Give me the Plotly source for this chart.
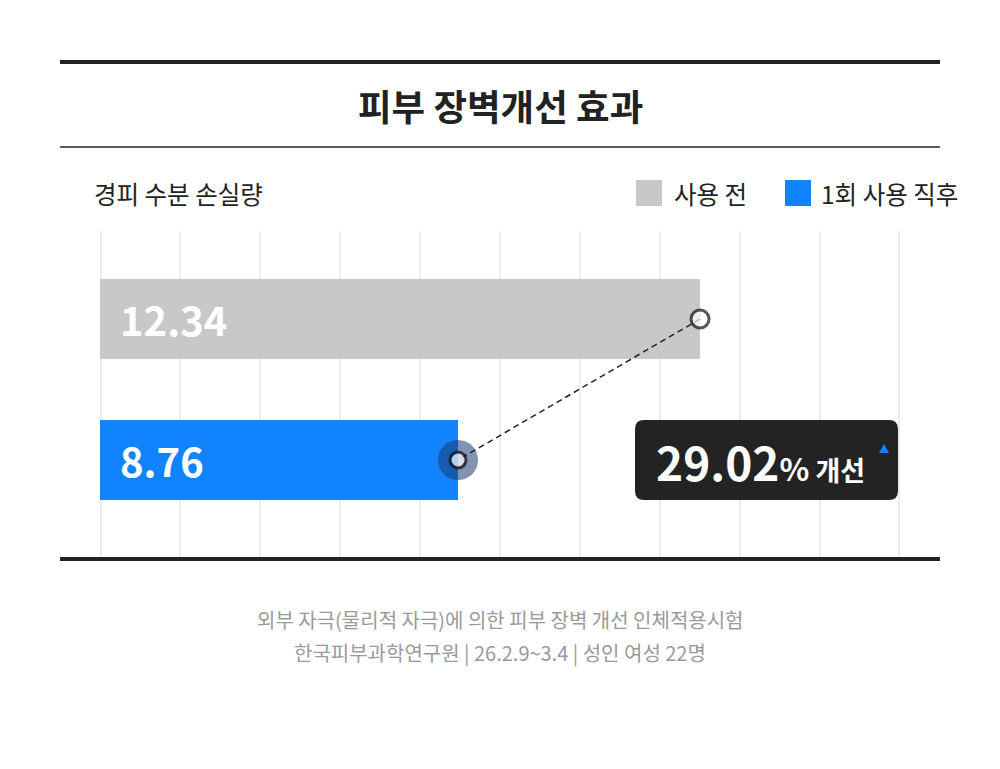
import plotly.graph_objects as go
import numpy as np

# ---- data ----
categories = ["사용 전", "1회 사용 직후"]
values = [12.34, 8.76]
value_labels = ["12.34", "8.76"]
improvement_label = "29.02"
bar_colors = ["#c8c8c8", "#1283fe"]

title_text = "피부 장벽개선 효과"
subtitle_text = "경피 수분 손실량"
footer_lines = ["외부 자극(물리적 자극)에 의한 피부 장벽 개선 인체적용시험",
                "한국피부과학연구원 | 26.2.9~3.4 | 성인 여성 22명"]

W, H = 1000, 769
FONT = "Noto Sans CJK KR"

def py(pix):
    return 1 - pix / H

def px(pix):
    return pix / W

x_range = [3.464, 15.298]
idx = list(range(len(categories)))

# decorative grid positions (edges nudged inside so they are drawn)
unit_per_px = (x_range[1] - x_range[0]) / 800
grid_vals = list(np.linspace(x_range[0], x_range[1], 11))
grid_vals[0] += 1.3 * unit_per_px
grid_vals[-1] -= 1.3 * unit_per_px

fig = go.Figure()

fig.add_trace(go.Bar(
    y=idx, x=values, base=0, orientation="h",
    marker=dict(color=bar_colors, line=dict(width=0)),
    width=0.567, hoverinfo="skip", showlegend=False,
))

# halo around the after-use end point
fig.add_trace(go.Scatter(
    x=[values[1]], y=[idx[1]], mode="markers",
    marker=dict(size=40, color="rgba(28,58,110,0.55)", line=dict(width=0)),
    hoverinfo="skip", showlegend=False,
))
# dashed connector
fig.add_trace(go.Scatter(
    x=values, y=idx, mode="lines",
    line=dict(color="#222222", width=1.5, dash="6px,4px"),
    hoverinfo="skip", showlegend=False,
))
# end point circles
fig.add_trace(go.Scatter(
    x=values, y=idx, mode="markers",
    marker=dict(size=[18, 16], color="white", line=dict(color="#111111", width=3)),
    hoverinfo="skip", showlegend=False,
))

shapes = []
annotations = []

# top heavy line, thin line, bottom heavy line
shapes.append(dict(type="line", xref="paper", yref="paper", x0=px(60), x1=px(940),
                   y0=py(62), y1=py(62), line=dict(color="#222222", width=4)))
shapes.append(dict(type="line", xref="paper", yref="paper", x0=px(60), x1=px(940),
                   y0=py(147), y1=py(147), line=dict(color="#222222", width=1.4)))
shapes.append(dict(type="line", xref="paper", yref="paper", x0=px(60), x1=px(940),
                   y0=py(559), y1=py(559), line=dict(color="#222222", width=4)))

# title
annotations.append(dict(text="<b>" + title_text + "</b>", xref="paper", yref="paper",
                        x=0.5, y=py(105), xanchor="center", yanchor="middle",
                        showarrow=False, font=dict(family=FONT, size=36.5, color="#222222")))
# subtitle
annotations.append(dict(text=subtitle_text, xref="paper", yref="paper",
                        x=px(92), y=py(193), xanchor="left", yanchor="middle",
                        showarrow=False, font=dict(family=FONT, size=24.5, color="#222222")))

# legend
legend_x = [636, 785]
legend_text_x = [672, 819]
for i, cat in enumerate(categories):
    shapes.append(dict(type="rect", xref="paper", yref="paper",
                       x0=px(legend_x[i]), x1=px(legend_x[i] + 26),
                       y0=py(206), y1=py(180), fillcolor=bar_colors[i], line=dict(width=0)))
    annotations.append(dict(text=cat, xref="paper", yref="paper",
                            x=px(legend_text_x[i]), y=py(193), xanchor="left", yanchor="middle",
                            showarrow=False, font=dict(family=FONT, size=24.5, color="#222222")))

# bar value labels
for i, lab in enumerate(value_labels):
    annotations.append(dict(text="<b>" + lab + "</b>", xref="paper", yref="y",
                            x=px(118), y=idx[i], xanchor="left", yanchor="middle",
                            showarrow=False, font=dict(family=FONT, size=40, color="white")))

# badge (rounded rect)
bx0, bx1, by0, by1, r = 635, 898, 420, 500, 9
rx, ry = r / W, r / H
X0, X1, Y0, Y1 = px(bx0), px(bx1), py(by1), py(by0)
path = (f"M {X0+rx},{Y0} L {X1-rx},{Y0} Q {X1},{Y0} {X1},{Y0+ry} "
        f"L {X1},{Y1-ry} Q {X1},{Y1} {X1-rx},{Y1} L {X0+rx},{Y1} "
        f"Q {X0},{Y1} {X0},{Y1-ry} L {X0},{Y0+ry} Q {X0},{Y0} {X0+rx},{Y0} Z")
shapes.append(dict(type="path", xref="paper", yref="paper", path=path,
                   fillcolor="#232323", line=dict(width=0)))
# small blue triangle
tx, ty = 884, 449
tri = (f"M {px(tx-5)},{py(ty+4)} L {px(tx+5)},{py(ty+4)} L {px(tx)},{py(ty-5)} Z")
shapes.append(dict(type="path", xref="paper", yref="paper", path=tri,
                   fillcolor="#1283fe", line=dict(width=0)))

annotations.append(dict(
    text=("<b>" + improvement_label + "</b>"
          "<span style='font-size:31px'><b>%</b></span>"
          "<span style='font-size:27px'><b> 개선</b></span>"),
    xref="paper", yref="paper", x=px(654), y=py(461), xanchor="left", yanchor="middle",
    showarrow=False, font=dict(family=FONT, size=46, color="white")))

# footer
for i, line in enumerate(footer_lines):
    annotations.append(dict(text=line, xref="paper", yref="paper",
                            x=0.5, y=py(619 + 33 * i), xanchor="center", yanchor="middle",
                            showarrow=False, font=dict(family=FONT, size=20, color="#9a9a9a")))

fig.update_layout(
    width=W, height=H,
    margin=dict(l=0, r=0, t=0, b=0),
    paper_bgcolor="white", plot_bgcolor="white",
    xaxis=dict(domain=[0.1, 0.9], range=x_range, showticklabels=False,
               tickvals=grid_vals,
               showgrid=True, gridcolor="#ececec", gridwidth=2,
               zeroline=False, showline=False, ticks=""),
    yaxis=dict(domain=[py(557), py(231)], range=[1.688, -0.624], showticklabels=False,
               showgrid=False, zeroline=False, showline=False, ticks=""),
    shapes=shapes, annotations=annotations,
    font=dict(family=FONT),
)

fig.write_html("out.html")
